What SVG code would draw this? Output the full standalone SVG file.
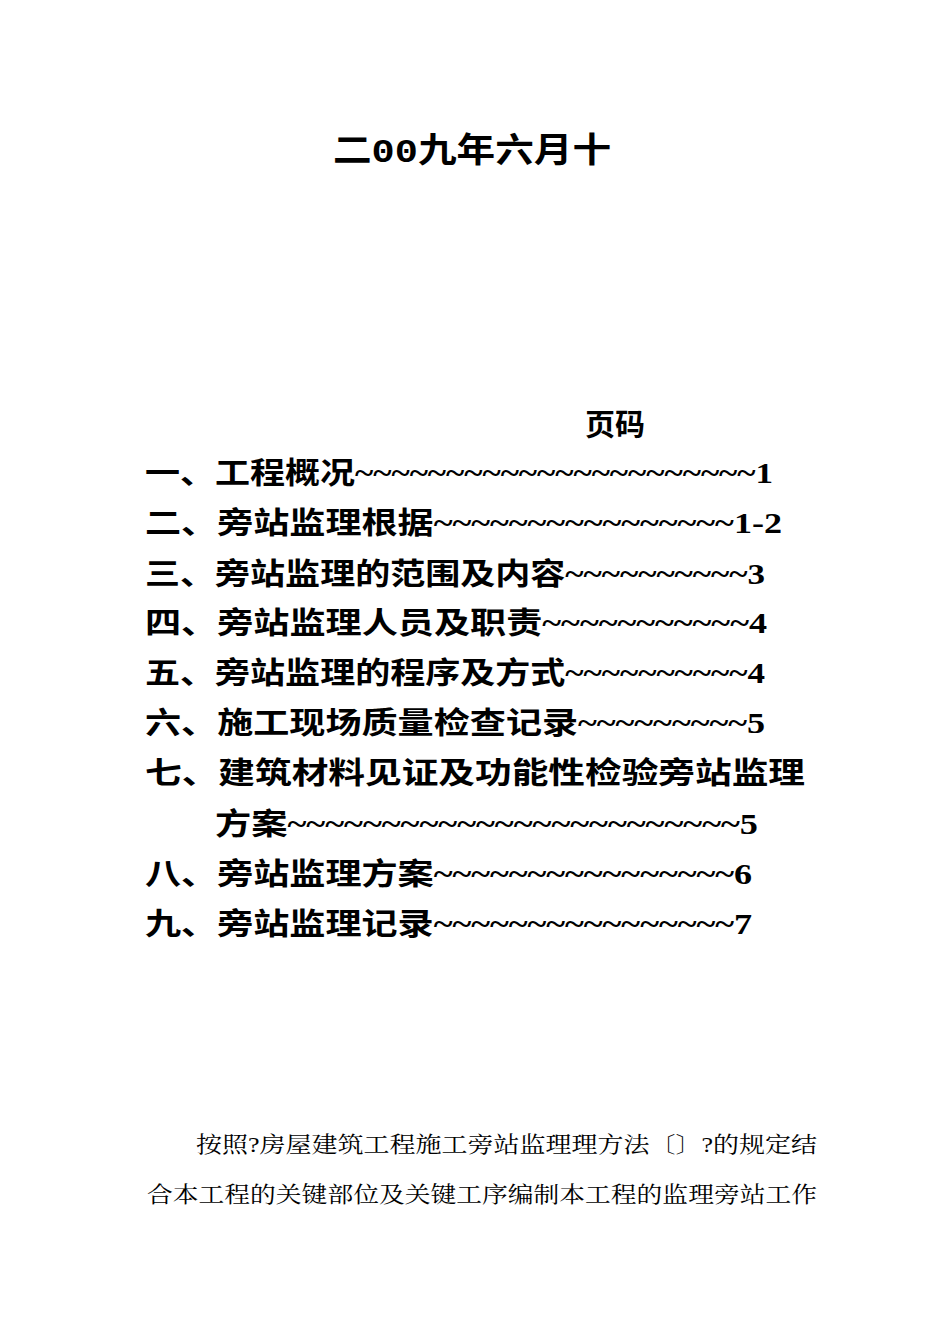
<svg xmlns="http://www.w3.org/2000/svg" width="950" height="1344" viewBox="0 0 950 1344">
<style>
.t{font-family:"Liberation Serif","Noto Sans CJK SC",serif;fill:#000}
.h{font-size:34px;font-weight:bold;font-family:"Liberation Mono","Noto Sans CJK SC",monospace}
.toc{font-size:30px;font-weight:bold}
.p{font-size:22px;font-family:"Liberation Serif","Noto Serif CJK SC","Noto Sans CJK SC",serif}
</style>
<rect width="950" height="1344" fill="#fff"/>
<text class="t h" x="333" y="162" textLength="278" lengthAdjust="spacingAndGlyphs">二00九年六月十</text>
<text class="t toc" x="585" y="435">页码</text>
<g class="t toc">
<text x="145" y="483" textLength="628" lengthAdjust="spacingAndGlyphs">一、工程概况~~~~~~~~~~~~~~~~~~~~~~1</text>
<text x="145" y="533" textLength="637" lengthAdjust="spacingAndGlyphs">二、旁站监理根据~~~~~~~~~~~~~~~~1-2</text>
<text x="145" y="584" textLength="620" lengthAdjust="spacingAndGlyphs">三、旁站监理的范围及内容~~~~~~~~~~3</text>
<text x="145" y="633" textLength="622" lengthAdjust="spacingAndGlyphs">四、旁站监理人员及职责~~~~~~~~~~~4</text>
<text x="145" y="683" textLength="620" lengthAdjust="spacingAndGlyphs">五、旁站监理的程序及方式~~~~~~~~~~4</text>
<text x="145" y="733" textLength="620" lengthAdjust="spacingAndGlyphs">六、施工现场质量检查记录~~~~~~~~~5</text>
<text x="145" y="783" textLength="660" lengthAdjust="spacingAndGlyphs">七、建筑材料见证及功能性检验旁站监理</text>
<text x="215" y="834" textLength="543" lengthAdjust="spacingAndGlyphs">方案~~~~~~~~~~~~~~~~~~~~~~~~5</text>
<text x="145" y="884" textLength="607" lengthAdjust="spacingAndGlyphs">八、旁站监理方案~~~~~~~~~~~~~~~~6</text>
<text x="145" y="934" textLength="607" lengthAdjust="spacingAndGlyphs">九、旁站监理记录~~~~~~~~~~~~~~~~7</text>
</g>
<g class="t p">
<text x="196" y="1152" textLength="621" lengthAdjust="spacingAndGlyphs">按照?房屋建筑工程施工旁站监理理方法〔〕?的规定结</text>
<text x="147" y="1202" textLength="670" lengthAdjust="spacingAndGlyphs">合本工程的关键部位及关键工序编制本工程的监理旁站工作</text>
</g>
</svg>
